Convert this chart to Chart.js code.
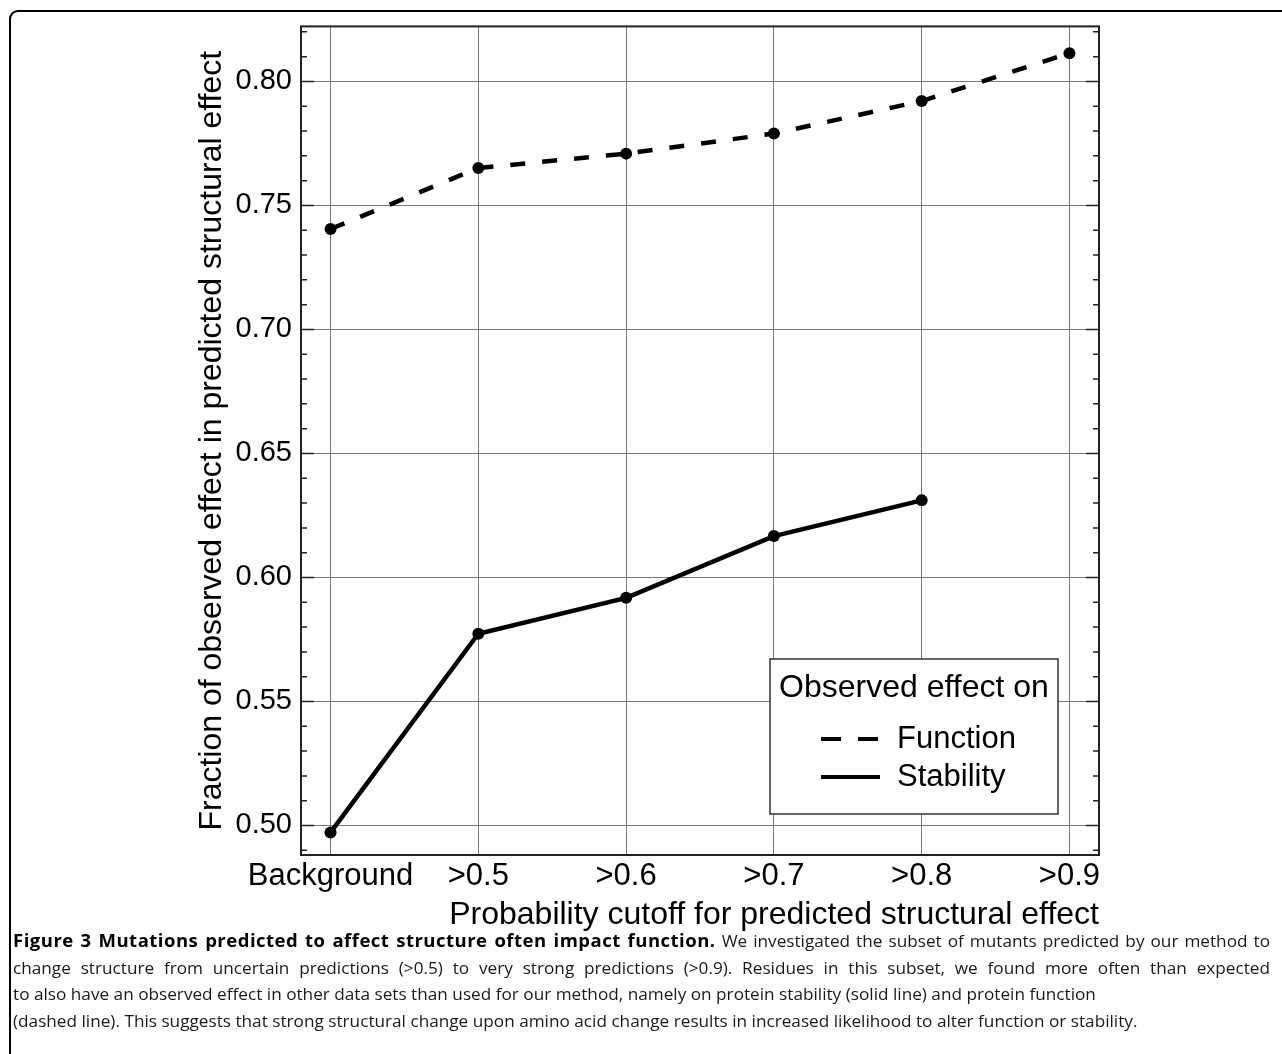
<!DOCTYPE html>
<html lang="en">
<head>
<meta charset="UTF-8">
<title>Figure 3</title>
<script src="https://cdn.jsdelivr.net/npm/chart.js"></script>
<style>
  html, body { margin: 0; padding: 0; background: #fff; }
  body { width: 1282px; height: 1054px; position: relative; overflow: hidden; }
  .frame {
    position: absolute; left: 9px; top: 10px; width: 1300px; height: 1100px;
    border-top: 2px solid #000; border-left: 2px solid #000;
    border-top-left-radius: 9px;
  }
  .plot { position: absolute; left: 0; top: 0; }
  .caption {
    position: absolute; left: 13px; top: 927px; width: 1257px;
    font-family: "Open Sans", sans-serif; font-size: 17.2px; line-height: 26.6px;
    color: #1a1a1a;
  }
  .caption b { font-size: 18.5px; letter-spacing: 0.5px; color: #000; }
  .caption div { white-space: nowrap; }
  .caption .just { text-align: justify; text-align-last: justify; white-space: normal; }
</style>
</head>
<body>
<div class="frame"></div>
<canvas id="fig" class="plot" width="1282" height="940"></canvas>
<div class="caption">
  <div class="just"><b>Figure 3 Mutations predicted to affect structure often impact function.</b> We investigated the subset of mutants predicted by our method to</div>
  <div class="just">change structure from uncertain predictions (&gt;0.5) to very strong predictions (&gt;0.9). Residues in this subset, we found more often than expected</div>
  <div>to also have an observed effect in other data sets than used for our method, namely on protein stability (solid line) and protein function</div>
  <div>(dashed line). This suggests that strong structural change upon amino acid change results in increased likelihood to alter function or stability.</div>
</div>

<script>
  // values
  const labels = ['Background', '>0.5', '>0.6', '>0.7', '>0.8', '>0.9'];
  const functionVals = [0.7405, 0.7651, 0.7709, 0.7790, 0.7921, 0.8114];
  const stabilityVals = [0.4972, 0.5773, 0.5918, 0.6167, 0.6311];
  const yTicks = [0.50, 0.55, 0.60, 0.65, 0.70, 0.75, 0.80];
  const legendTitle = 'Observed effect on';

  const FONT = '"Liberation Sans", Arial, sans-serif';

  // box, inward ticks and the inset legend
  const figurePlugin = {
    id: 'figure',
    beforeDatasetsDraw(chart) {
      const {ctx, chartArea: a} = chart;
      const y = chart.scales.y;
      ctx.save();
      ctx.strokeStyle = '#222';
      ctx.lineWidth = 1.5;
      for (let k = Math.ceil(y.min * 100); k <= Math.floor(y.max * 100); k++) {
        const py = y.getPixelForValue(k / 100);
        const len = k % 5 === 0 ? 13 : 6;
        ctx.beginPath();
        ctx.moveTo(a.left, py); ctx.lineTo(a.left + len, py);
        ctx.moveTo(a.right, py); ctx.lineTo(a.right - len, py);
        ctx.stroke();
      }
      ctx.lineWidth = 2;
      ctx.strokeRect(a.left, a.top, a.right - a.left, a.bottom - a.top);
      ctx.restore();
    },
    afterDatasetsDraw(chart) {
      const {ctx, chartArea: a} = chart;
      const x1 = a.right - 329, x2 = a.right - 41;
      const y1 = a.bottom - 196, y2 = a.bottom - 41;
      ctx.save();
      ctx.fillStyle = '#fff';
      ctx.fillRect(x1, y1, x2 - x1, y2 - y1);
      ctx.strokeStyle = '#333';
      ctx.lineWidth = 1.5;
      ctx.strokeRect(x1, y1, x2 - x1, y2 - y1);

      ctx.fillStyle = '#000';
      ctx.textBaseline = 'middle';
      ctx.font = '32px ' + FONT;
      ctx.textAlign = 'center';
      ctx.fillText(legendTitle, (x1 + x2) / 2, y1 + 29);

      ctx.textAlign = 'left';
      ctx.font = '31px ' + FONT;
      chart.data.datasets.forEach((ds, i) => {
        const ry = y1 + 80 + i * 38;
        ctx.beginPath();
        ctx.setLineDash(ds.borderDash ? [20, 17] : []);
        ctx.lineWidth = 4;
        ctx.strokeStyle = '#000';
        ctx.moveTo(x1 + 51, ry);
        ctx.lineTo(x1 + 110, ry);
        ctx.stroke();
        ctx.setLineDash([]);
        ctx.fillText(ds.label, x1 + 127, ry);
      });
      ctx.restore();
    }
  };

  new Chart(document.getElementById('fig'), {
    type: 'line',
    data: {
      datasets: [
        {
          label: 'Function',
          data: functionVals.map((v, i) => ({x: i, y: v})),
          borderColor: '#000',
          backgroundColor: '#000',
          borderWidth: 4.5,
          borderDash: [15, 17],
          pointRadius: 6,
          pointBorderWidth: 0,
          pointBackgroundColor: '#000'
        },
        {
          label: 'Stability',
          data: stabilityVals.map((v, i) => ({x: i, y: v})),
          borderColor: '#000',
          backgroundColor: '#000',
          borderWidth: 4.5,
          pointRadius: 6,
          pointBorderWidth: 0,
          pointBackgroundColor: '#000'
        }
      ]
    },
    options: {
      responsive: false,
      animation: false,
      devicePixelRatio: 1,
      layout: { padding: { left: 193, right: 183, top: 26, bottom: 0 } },
      plugins: { legend: { display: false }, tooltip: { enabled: false } },
      scales: {
        x: {
          type: 'linear',
          min: -0.2,
          max: 5.2,
          afterBuildTicks: s => { s.ticks = labels.map((_, i) => ({value: i})); },
          afterFit: s => { s.height = 85; },
          ticks: {
            callback: v => labels[v],
            color: '#000',
            font: { family: FONT, size: 31 },
            padding: 3,
            maxRotation: 0,
            autoSkip: false
          },
          grid: { color: '#777', lineWidth: 1, drawTicks: false },
          border: { display: false },
          title: {
            display: true,
            text: 'Probability cutoff for predicted structural effect',
            align: 'end',
            color: '#000',
            font: { family: FONT, size: 32 },
            padding: { top: 0, bottom: 6 }
          }
        },
        y: {
          min: 0.4881,
          max: 0.8222,
          afterBuildTicks: s => { s.ticks = yTicks.map(v => ({value: v})); },
          afterFit: s => { s.width = 108; },
          ticks: {
            callback: v => v.toFixed(2),
            color: '#000',
            font: { family: FONT, size: 29 },
            padding: 9
          },
          grid: { color: '#777', lineWidth: 1, drawTicks: false },
          border: { display: false },
          title: {
            display: true,
            text: 'Fraction of observed effect in predicted structural effect',
            color: '#000',
            font: { family: FONT, size: 32 },
            padding: { top: 0, bottom: 0 }
          }
        }
      }
    },
    plugins: [figurePlugin]
  });
</script>
</body>
</html>
